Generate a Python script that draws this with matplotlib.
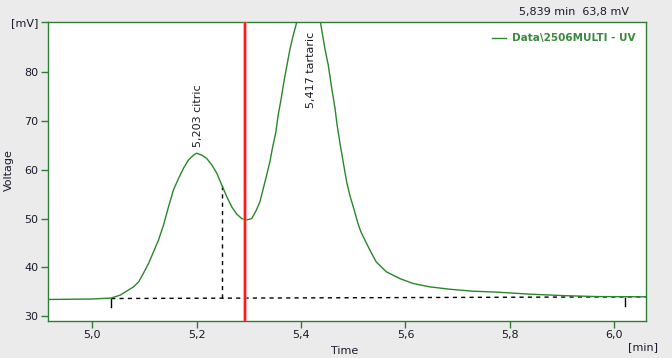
import matplotlib
matplotlib.use("Agg")
import matplotlib.pyplot as plt
from matplotlib.ticker import FixedLocator, FuncFormatter

# ---- data ----
time_min = [4.914, 5.000, 5.036, 5.0535, 5.079, 5.0886, 5.098, 5.1077, 5.1173, 5.1268,
            5.1364, 5.1459, 5.1555, 5.1651, 5.1746, 5.1842, 5.1937, 5.200, 5.2097, 5.2193,
            5.2288, 5.2384, 5.2479, 5.2575, 5.2671, 5.2767, 5.2862, 5.2958, 5.3054, 5.3136,
            5.321, 5.3276, 5.334, 5.3403, 5.345, 5.3518, 5.356, 5.3614, 5.366, 5.3723,
            5.379, 5.385, 5.391, 5.404, 5.417, 5.428, 5.437, 5.4455, 5.452, 5.4583,
            5.465, 5.469, 5.474, 5.4805, 5.487, 5.4933, 5.500, 5.509, 5.5138, 5.519,
            5.532, 5.544, 5.563, 5.589, 5.614, 5.646, 5.685, 5.729, 5.777, 5.837,
            5.901, 5.965, 6.061]
voltage_mv = [33.4, 33.5, 33.7, 34.3, 36.0, 37.0, 38.8, 40.8, 43.2, 45.6,
              48.7, 52.4, 55.9, 58.2, 60.3, 62.0, 63.0, 63.4, 63.0, 62.3,
              61.0, 59.3, 56.9, 54.5, 52.4, 50.9, 50.0, 49.7, 50.0, 51.6,
              53.4, 56.2, 58.9, 61.7, 64.4, 67.8, 71.2, 74.3, 77.4, 81.1,
              84.9, 87.6, 90.0, 93.8, 95.0, 93.5, 90.3, 84.9, 81.5, 77.0,
              72.6, 69.2, 65.8, 61.7, 57.7, 54.8, 52.4, 49.0, 47.5, 46.3,
              43.5, 41.1, 39.1, 37.7, 36.7, 36.0, 35.5, 35.1, 34.9, 34.5,
              34.2, 34.0, 33.95]

baseline_t = [5.036, 6.061]
baseline_v = [33.6, 33.95]
drop_t = 5.249
drop_v = [33.68, 56.6]
peak_marks_t = [5.036, 6.021]
peak_marks_top = [33.6, 33.7]
peak_marks_bottom = [31.85, 32.1]
cursor_t = 5.293

peak_labels = ["5,203 citric", "5,417 tartaric"]
peak_label_t = [5.203, 5.419]
peak_label_v = [64.6, 72.6]

x_ticks = [5.0, 5.2, 5.4, 5.6, 5.8, 6.0]
y_ticks = [30, 40, 50, 60, 70, 80]
x_lim = (4.914, 6.061)
y_lim = (29.05, 90.3)

series_name = "Data\\2506MULTI - UV"
cursor_text = "5,839 min  63,8 mV"

GREEN = "#2f7d32"
LINE_GREEN = "#2a862a"
BG = "#ebebeb"
TXT = "#1a1a2a"

plt.rcParams['font.family'] = ['DejaVu Sans']
fig = plt.figure(figsize=(6.72, 3.58), dpi=100, facecolor=BG)
ax = fig.add_axes([47.5/672, 1-320.7/358, (646-47.5)/672, (320.7-22)/358])
ax.set_facecolor("white")

ax.plot(time_min, voltage_mv, color=LINE_GREEN, lw=1.0, zorder=3)
ax.plot(baseline_t, baseline_v, color="black", lw=1.0, ls=(0, (3, 3)), zorder=2)
ax.plot([drop_t, drop_t], drop_v, color="black", lw=1.0, ls=(0, (3, 3)), zorder=2)
for t, a, b in zip(peak_marks_t, peak_marks_top, peak_marks_bottom):
    ax.plot([t, t], [a, b], color="black", lw=1.0, zorder=2)
ax.axvline(cursor_t, color="#ff8080", lw=3.0, alpha=0.6, zorder=4)
ax.axvline(cursor_t, color="#ff1a1a", lw=1.5, zorder=5)

for lab, t, v in zip(peak_labels, peak_label_t, peak_label_v):
    ax.text(t, v, lab, rotation=90, ha="center", va="bottom", fontsize=8, color=TXT, zorder=6)

ax.set_xlim(*x_lim)
ax.set_ylim(*y_lim)
ax.xaxis.set_major_locator(FixedLocator(x_ticks))
ax.xaxis.set_major_formatter(FuncFormatter(lambda v, p: f"{v:.1f}".replace(".", ",")))
ax.yaxis.set_major_locator(FixedLocator(y_ticks + [y_lim[1]]))
ax.yaxis.set_major_formatter(FuncFormatter(lambda v, p: "[mV]" if v > 85 else f"{v:.0f}"))
ax.tick_params(axis="both", colors=GREEN, labelcolor=TXT, labelsize=8, length=5, width=1, pad=1.5)

for s in ax.spines.values():
    s.set_color(GREEN)
    s.set_linewidth(1.0)

fig.text(344.5/672, 1-351.5/358, "Time", fontsize=8, color=TXT, ha="center", va="center")
fig.text(8.5/672, 1-170/358, "Voltage", fontsize=8, color=TXT, ha="center", va="center", rotation=90)
fig.text(643/672, 1-347/358, "[min]", fontsize=8, color=TXT, ha="center", va="center")
fig.text(629/672, 1-12/358, cursor_text, fontsize=8, color=TXT, ha="right", va="center")

# legend entry
fig.lines.append(plt.Line2D([491.7/672, 506/672], [1-38.3/358, 1-38.3/358],
                            color=LINE_GREEN, lw=1.0, transform=fig.transFigure))
fig.text(511.7/672, 1-38.3/358, series_name, fontsize=7.5, fontweight="bold",
         color="#3a8a3a", ha="left", va="center")

fig.savefig("out.png", dpi=100, facecolor=BG)
